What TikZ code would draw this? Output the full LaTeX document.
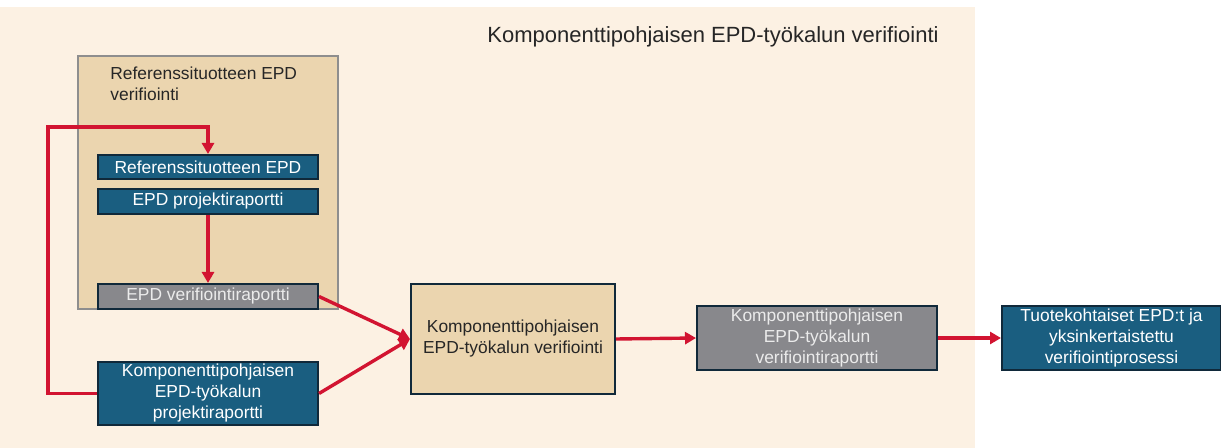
\documentclass[tikz,border=0pt]{standalone}
\usepackage{fontspec}
\setmainfont{Liberation Sans}
\usetikzlibrary{positioning, arrows.meta}

\definecolor{paper}{HTML}{FCF1E3}
\definecolor{sand}{HTML}{EBD5AF}
\definecolor{petrol}{HTML}{1A5E80}
\definecolor{ink}{HTML}{10293A}
\definecolor{slate}{HTML}{88888C}
\definecolor{frame}{HTML}{8E8E8E}
\definecolor{crimson}{HTML}{D21431}

\begin{document}
\begin{tikzpicture}[x=0.5pt, y=-0.5pt,
    every node/.style={font=\fontsize{8.7}{10.5}\selectfont, inner sep=0pt},
    box/.style={draw=ink, line width=1pt, align=center},
    bluebox/.style={box, fill=petrol, text=white},
    graybox/.style={box, fill=slate, text=white!92!black},
    tanbox/.style={box, fill=sand, text=black!85},
    arr/.style={crimson, line width=1.7pt, -{Triangle[length=5.5pt,width=6pt]}}]
    \useasboundingbox (0,0) rectangle (1221,448);
    \fill[white] (0,0) rectangle (1221,448);
    \fill[paper] (0,7) rectangle (975,448);
    \node[font=\fontsize{11}{13}\selectfont, text=black!85] (title) at (713,37) {Komponenttipohjaisen EPD-työkalun verifiointi};

    % reference product group
    \draw[draw=frame, line width=1pt, fill=sand] (78,56) rectangle (338,309);
    \node[anchor=north west, align=left, text=black!85] (grouptitle) at (110,66) {Referenssituotteen EPD\\verifiointi};

    \node[bluebox, minimum width=110pt, minimum height=12pt] (refepd) at (208,167) {Referenssituotteen EPD};
    \node[bluebox, minimum width=110pt, minimum height=12.5pt] (projrap) at (208,201.5) {EPD projektiraportti};
    \node[graybox, minimum width=110pt, minimum height=12.5pt] (verrap) at (208,296.5) {EPD verifiointiraportti};
    \node[bluebox, minimum width=110pt, minimum height=31.5pt] (komprap) at (208,393.5) {Komponenttipohjaisen\\EPD-työkalun\\projektiraportti};

    \node[tanbox, minimum width=102pt, minimum height=55pt] (verif) at (513,339) {Komponenttipohjaisen\\EPD-työkalun verifiointi};
    \node[graybox, minimum width=120pt, minimum height=32pt] (komprep) at (817,338) {Komponenttipohjaisen\\EPD-työkalun\\verifiointiraportti};
    \node[bluebox, minimum width=109.5pt, minimum height=32pt] (result) at (1111.5,338) {Tuotekohtaiset EPD:t ja\\yksinkertaistettu\\verifiointiprosessi};

    % connectors
    \coordinate (loopcorner) at (48,127);
    \draw[arr] (komprap.west) -| (loopcorner) -| (refepd.north);
    \draw[arr] (projrap.south) -- (verrap.north);
    \draw[arr] (verrap.east) -- (verif.west);
    \draw[arr] (komprap.east) -- (verif.west);
    \draw[arr] (verif.east) -- (komprep.west);
    \draw[arr] (komprep.east) -- (result.west);
\end{tikzpicture}
\end{document}
